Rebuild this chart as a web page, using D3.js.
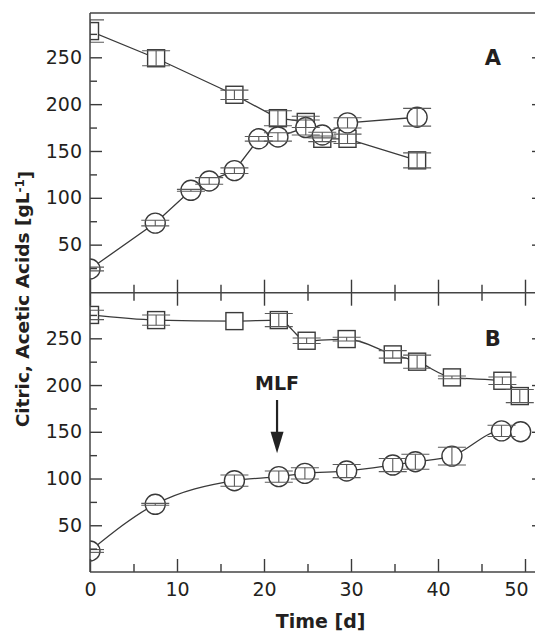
<!DOCTYPE html>
<html>
<head>
<meta charset="utf-8">
<script src="https://cdn.jsdelivr.net/npm/d3@7"></script>
<style>
  body { margin: 0; background: #fff; }
  text { font-family: "DejaVu Sans", sans-serif; fill: #231f20; }
</style>
</head>
<body>
<div id="chart"></div>
<script>
// Panel A - squares (citric) and circles (acetic)
const timeCitA = [0, 7.6, 16.6, 21.6, 24.8, 26.7, 29.6, 37.6];
const citA = [278, 249, 210, 185, 181, 163, 163, 140];
const citErrA = [12, 8, 5, 8, 6, 3, 5, 8];

const timeAceA = [0, 7.5, 11.6, 13.7, 16.6, 19.4, 21.6, 24.8, 26.7, 29.6, 37.6];
const aceA = [24, 73, 108, 118, 129, 163, 165, 175, 167, 180, 186];
const aceErrA = [2, 3, 1, 3.5, 3, 2.5, 4.5, 8, 3, 5.5, 9.5];

// Panel B
const timeCitB = [0, 7.6, 16.6, 21.7, 24.9, 29.5, 34.8, 37.6, 41.6, 47.4, 49.4];
const citB = [275, 269.5, 268.4, 269.5, 247.4, 249.2, 232.8, 225, 208.2, 204.6, 188.2];
const citErrB = [5, 5.5, 0, 7, 3, 2, 4, 7, 1.5, 4, 7];

const timeAceB = [0, 7.5, 16.6, 21.7, 24.7, 29.5, 34.8, 37.4, 41.6, 47.3, 49.5];
const aceB = [22.5, 72.4, 97.7, 102, 105.5, 108, 114.4, 118, 124, 151, 150];
const aceErrB = [1.5, 1, 6, 6, 6, 7, 7, 8, 9.5, 6, 0];

// Ticks
const xMajor = [0, 10, 20, 30, 40, 50];
const xMinor = [5, 15, 25, 35, 45];
const yMajor = [50, 100, 150, 200, 250];
const yMinor = [25, 75, 125, 175, 225, 275];

const mlfTime = 21.5;

function zip(t, v, e) {
    return t.map((d, i) => ({ t: d, v: v[i], e: e[i] }));
}

renderChart();

function renderChart() {
    const width = 535, height = 631;
    const left = 90, right = 545;
    const stroke = "#3a3a3a";

    const svg = d3.select("#chart")
        .append("svg")
        .attr("width", width)
        .attr("height", height);

    const x = d3.scaleLinear().domain([0, 50]).range([90, 525]);

    const panels = [
        { name: "A", top: 13, bottom: 292.7, domain: [-1.3, 297.3], curve: d3.curveLinear,
          cit: zip(timeCitA, citA, citErrA), ace: zip(timeAceA, aceA, aceErrA) },
        { name: "B", top: 292.7, bottom: 572, domain: [0, 298.8], curve: d3.curveMonotoneX,
          cit: zip(timeCitB, citB, citErrB), ace: zip(timeAceB, aceB, aceErrB) }
    ];

    panels.forEach((p, pi) => {
        const y = d3.scaleLinear().domain(p.domain).range([p.bottom, p.top]);
        p.y = y;

        // clip so the markers at t=0 are cut by the frame
        svg.append("clipPath").attr("id", "clip" + pi)
            .append("rect")
            .attr("x", left).attr("y", p.top)
            .attr("width", right - left).attr("height", p.bottom - p.top);

        const g = svg.append("g").attr("clip-path", `url(#clip${pi})`);

        const line = d3.line().x(d => x(d.t)).y(d => y(d.v)).curve(p.curve);

        [p.ace, p.cit].forEach(s => {
            g.append("path")
                .attr("d", line(s))
                .attr("fill", "none")
                .attr("stroke", stroke)
                .attr("stroke-width", 1.3);
        });

        // markers
        g.selectAll(".sq")
            .data(p.cit)
            .enter().append("rect")
            .attr("x", d => x(d.t) - 8.5)
            .attr("y", d => y(d.v) - 8.5)
            .attr("width", 17).attr("height", 17)
            .attr("fill", "#fff")
            .attr("stroke", stroke)
            .attr("stroke-width", 1.4);

        g.selectAll(".ci")
            .data(p.ace)
            .enter().append("circle")
            .attr("cx", d => x(d.t))
            .attr("cy", d => y(d.v))
            .attr("r", 10)
            .attr("fill", "#fff")
            .attr("stroke", stroke)
            .attr("stroke-width", 1.4);

        // error bars on top
        const errs = p.cit.concat(p.ace).filter(d => d.e > 0);
        const eg = g.append("g").attr("stroke", "#5a5a5a").attr("stroke-width", 1.1);
        errs.forEach(d => {
            const cx = x(d.t), y0 = y(d.v - d.e), y1 = y(d.v + d.e);
            eg.append("line").attr("x1", cx).attr("x2", cx).attr("y1", y0).attr("y2", y1);
            [y0, y1].forEach(yy => {
                eg.append("line").attr("x1", cx - 14).attr("x2", cx + 14).attr("y1", yy).attr("y2", yy);
            });
        });

        // left y ticks
        svg.append("g")
            .attr("transform", `translate(${left},0)`)
            .call(d3.axisLeft(y).tickValues(yMajor).tickSize(-12).tickPadding(8))
            .call(a => a.selectAll("text").style("font-size", "19px"));
        svg.append("g")
            .attr("transform", `translate(${left},0)`)
            .call(d3.axisLeft(y).tickValues(yMinor).tickSize(-7).tickFormat(""));

        // right y ticks (frame itself lies just past the picture edge)
        svg.append("g")
            .attr("transform", `translate(${right},0)`)
            .call(d3.axisRight(y).tickValues(yMajor).tickSize(-13).tickFormat(""));

        // panel letter
        svg.append("text")
            .attr("x", x(46.3))
            .attr("y", y(250))
            .attr("dy", "0.36em")
            .attr("text-anchor", "middle")
            .style("font-size", "21px")
            .style("font-weight", "bold")
            .text(p.name);
    });

    const [pA, pB] = panels;

    // x ticks: bottom of A (up), top of B (down), bottom of B (up, labelled)
    const xTicks = (axis, yPos, labels) => {
        const ga = svg.append("g")
            .attr("transform", `translate(0,${yPos})`)
            .call(axis(x).tickValues(xMajor).tickSize(-13).tickPadding(11)
                .tickFormat(labels ? d3.format("d") : ""));
        ga.selectAll("text").style("font-size", "19px");
        // last label is nudged inward, as in the original
        ga.selectAll("text").filter(d => d === 50).attr("dx", -9);
        svg.append("g")
            .attr("transform", `translate(0,${yPos})`)
            .call(axis(x).tickValues(xMinor).tickSize(-8).tickFormat(""));
    };
    xTicks(d3.axisBottom, pA.bottom, false);
    xTicks(d3.axisTop, pB.top, false);
    xTicks(d3.axisBottom, pB.bottom, true);

    svg.selectAll(".domain").remove();
    svg.selectAll(".tick line").attr("stroke", stroke).attr("stroke-width", 1.4);
    svg.selectAll(".tick text").attr("fill", "#231f20");

    // frame
    const frame = svg.append("g").attr("stroke", "#444").attr("stroke-width", 1.5);
    frame.append("line").attr("x1", left).attr("x2", left).attr("y1", pA.top).attr("y2", pB.bottom);
    [pA.top, pA.bottom, pB.bottom].forEach(yy => {
        frame.append("line").attr("x1", left).attr("x2", right).attr("y1", yy).attr("y2", yy);
    });

    // MLF annotation
    const ax = x(mlfTime);
    svg.append("text")
        .attr("x", ax)
        .attr("y", pB.y(195))
        .attr("text-anchor", "middle")
        .style("font-size", "19px")
        .style("font-weight", "bold")
        .text("MLF");
    svg.append("line")
        .attr("x1", ax).attr("x2", ax)
        .attr("y1", pB.y(184)).attr("y2", pB.y(148))
        .attr("stroke", "#222").attr("stroke-width", 2.2);
    svg.append("path")
        .attr("d", `M${ax - 6.5},${pB.y(150)}L${ax + 6.5},${pB.y(150)}L${ax},${pB.y(127)}Z`)
        .attr("fill", "#222");

    // axis titles
    svg.append("text")
        .attr("x", x(26.5))
        .attr("y", 621)
        .attr("dy", "0.35em")
        .attr("text-anchor", "middle")
        .style("font-size", "19px")
        .style("font-weight", "bold")
        .text("Time [d]");

    const yl = svg.append("text")
        .attr("transform", "translate(23,299) rotate(-90)")
        .attr("dy", "0.35em")
        .attr("text-anchor", "middle")
        .style("font-size", "18.5px")
        .style("font-weight", "bold");
    yl.append("tspan").text("Citric, Acetic Acids [gL");
    yl.append("tspan").attr("dy", "-0.45em").style("font-size", "12px").text("-1");
    yl.append("tspan").attr("dy", "0.45em").text("]");
}
</script>
</body>
</html>
